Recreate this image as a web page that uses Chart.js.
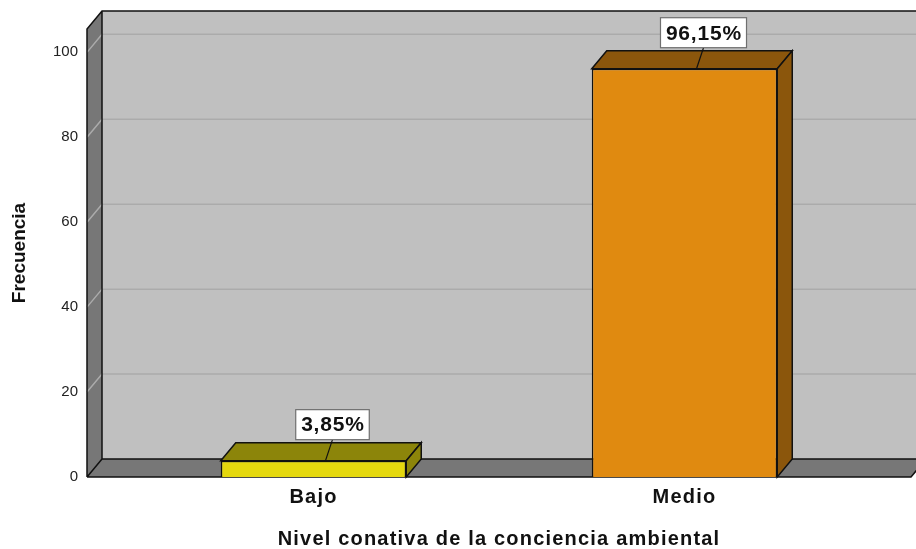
<!DOCTYPE html>
<html>
<head>
<meta charset="utf-8">
<script src="https://cdn.jsdelivr.net/npm/chart.js@4.4.1/dist/chart.umd.min.js"></script>
<style>
  html, body { margin: 0; padding: 0; background: #fff; }
</style>
</head>
<body>
<canvas id="chart" width="916" height="549"></canvas>
<script>
// datos del gráfico
const categories = ['Bajo', 'Medio'];
const percentages = [3.85, 96.15];
const yTicks = [0, 20, 40, 60, 80, 100];

const frontColors = ['#e5d80e', '#e08a10'];
const shadeColors = ['#8c850a', '#8b560c'];

const DX = 15, DY = 18;   // profundidad del efecto 3D
const FONT = '"Liberation Sans", Arial, sans-serif';

// textos del eje X un poco más espaciados
function spacedDraw(scale) {
  if (scale.$spaced) return;
  const draw = scale.draw;
  scale.draw = function (area) {
    this.ctx.save();
    this.ctx.letterSpacing = '1.2px';
    draw.call(this, area);
    this.ctx.restore();
  };
  scale.$spaced = true;
}

// paredes, suelo y rejilla en perspectiva
const walls3d = {
  id: 'walls3d',
  beforeDatasetsDraw(chart) {
    const { ctx, chartArea: a, scales: { y } } = chart;
    const W = chart.width;
    const L = a.left, R = a.right, T = a.top, B = a.bottom;
    ctx.save();

    // pared del fondo
    ctx.fillStyle = '#c0c0c0';
    ctx.fillRect(L + DX, T - DY, W - L, B - T);

    // pared izquierda
    ctx.fillStyle = '#777777';
    ctx.beginPath();
    ctx.moveTo(L, T); ctx.lineTo(L + DX, T - DY);
    ctx.lineTo(L + DX, B - DY); ctx.lineTo(L, B);
    ctx.closePath(); ctx.fill();

    // suelo
    ctx.beginPath();
    ctx.moveTo(L, B); ctx.lineTo(L + DX, B - DY);
    ctx.lineTo(R + DX, B - DY); ctx.lineTo(R, B);
    ctx.closePath(); ctx.fill();

    // líneas de rejilla
    ctx.strokeStyle = '#ababab';
    ctx.lineWidth = 1.5;
    yTicks.forEach(v => {
      if (v === 0) return;
      const py = y.getPixelForValue(v);
      ctx.beginPath();
      ctx.moveTo(L, py); ctx.lineTo(L + DX, py - DY);
      ctx.lineTo(W, py - DY);
      ctx.stroke();
    });

    // contornos
    ctx.strokeStyle = '#111';
    ctx.lineWidth = 1.5;
    ctx.beginPath();
    ctx.moveTo(L, B); ctx.lineTo(L, T); ctx.lineTo(L + DX, T - DY); ctx.lineTo(W, T - DY);
    ctx.moveTo(L + DX, T - DY); ctx.lineTo(L + DX, B - DY); ctx.lineTo(W, B - DY);
    ctx.moveTo(L, B); ctx.lineTo(L + DX, B - DY);
    ctx.moveTo(L, B); ctx.lineTo(R, B); ctx.lineTo(R + DX, B - DY);
    ctx.stroke();
    ctx.restore();
  },

  // caras superior y lateral de las barras, y etiquetas de porcentaje
  afterDatasetsDraw(chart) {
    const { ctx } = chart;
    const meta = chart.getDatasetMeta(0);
    ctx.save();
    meta.data.forEach((bar, i) => {
      const { x, y, base, width } = bar.getProps(['x', 'y', 'base', 'width'], true);
      const l = x - width / 2, r = x + width / 2;
      ctx.lineWidth = 1.5;
      ctx.strokeStyle = '#111';
      ctx.fillStyle = shadeColors[i];
      ctx.beginPath();
      ctx.moveTo(l, y); ctx.lineTo(l + DX, y - DY);
      ctx.lineTo(r + DX, y - DY); ctx.lineTo(r, y);
      ctx.closePath(); ctx.fill(); ctx.stroke();
      ctx.beginPath();
      ctx.moveTo(r, y); ctx.lineTo(r + DX, y - DY);
      ctx.lineTo(r + DX, base - DY); ctx.lineTo(r, base);
      ctx.closePath(); ctx.fill(); ctx.stroke();

      // etiqueta
      const txt = percentages[i].toFixed(2).replace('.', ',') + '%';
      ctx.font = 'bold 21px ' + FONT;
      ctx.letterSpacing = '0.8px';
      const tw = ctx.measureText(txt).width;
      const cx = x + 19;
      const bh = 30, bw = tw + 10;
      const bb = y - DY - 3;
      ctx.lineWidth = 1.2;
      ctx.beginPath();
      ctx.moveTo(cx, bb); ctx.lineTo(x + 12, y);
      ctx.stroke();
      ctx.fillStyle = '#fff';
      ctx.fillRect(cx - bw / 2, bb - bh, bw, bh);
      ctx.strokeStyle = '#6f6f6f';
      ctx.strokeRect(cx - bw / 2, bb - bh, bw, bh);
      ctx.fillStyle = '#111';
      ctx.textAlign = 'center';
      ctx.textBaseline = 'middle';
      ctx.fillText(txt, cx + 0.4, bb - bh / 2 + 1);
      ctx.letterSpacing = '0px';
    });
    ctx.restore();
  }
};

new Chart(document.getElementById('chart'), {
  type: 'bar',
  data: {
    datasets: [{
      data: percentages.map((v, i) => ({ x: i, y: v })),
      backgroundColor: frontColors,
      borderColor: '#111',
      borderWidth: 1.5,
      barPercentage: 0.5,
      categoryPercentage: 1
    }]
  },
  options: {
    responsive: false,
    animation: false,
    layout: { padding: { top: 29, right: 5, left: 0, bottom: 0 } },
    plugins: { legend: { display: false }, tooltip: { enabled: false } },
    scales: {
      x: {
        type: 'linear',
        offset: false,
        min: -0.6105,
        max: 1.6105,
        afterBuildTicks: s => { s.ticks = categories.map((c, i) => ({ value: i })); },
        afterFit: s => { s.height = 72; },
        afterUpdate: spacedDraw,
        grid: { display: false, drawTicks: false },
        border: { display: false },
        ticks: {
          callback: v => categories[v],
          font: { family: FONT, size: 20, weight: 'bold' },
          color: '#111',
          padding: 8,
          maxRotation: 0
        },
        title: {
          display: true,
          text: 'Nivel conativa de la conciencia ambiental',
          font: { family: FONT, size: 20, weight: 'bold', lineHeight: 1 },
          color: '#111',
          padding: 0
        }
      },
      y: {
        min: 0,
        max: 105.5,
        afterBuildTicks: s => { s.ticks = yTicks.map(v => ({ value: v })); },
        afterFit: s => { s.width = 87; },
        grid: { display: false, drawTicks: false },
        border: { display: false },
        ticks: {
          font: { family: FONT, size: 15 },
          color: '#222',
          padding: 9
        },
        title: {
          display: true,
          text: 'Frecuencia',
          font: { family: FONT, size: 19, weight: 'bold' },
          color: '#111',
          padding: { top: 8, bottom: 0 }
        }
      }
    }
  },
  plugins: [walls3d]
});
</script>
</body>
</html>
